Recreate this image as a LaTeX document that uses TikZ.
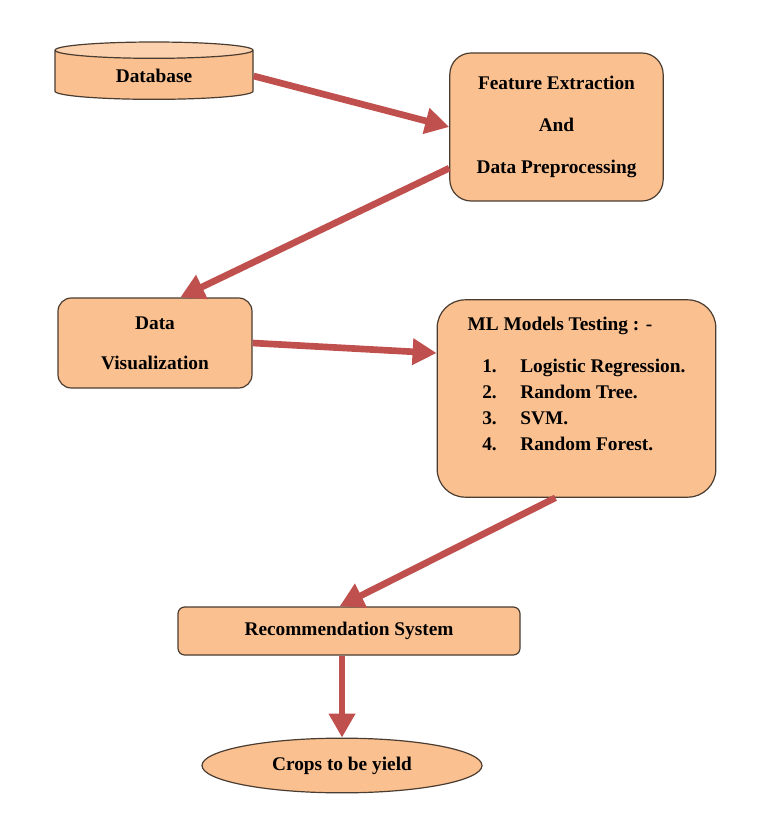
\documentclass[tikz,border=0pt]{standalone}
\usepackage{fontspec}
\setmainfont{Liberation Serif}
\usepackage{xcolor}
\usepackage{tikz}
\usetikzlibrary{shapes.geometric, arrows.meta, positioning, calc}

\definecolor{boxfill}{HTML}{FAC090}
\definecolor{boxtop}{HTML}{FCD2AE}
\definecolor{boxline}{HTML}{4A3C30}
\definecolor{arrred}{HTML}{C0504D}

\begin{document}
\begin{tikzpicture}[x=0.75pt, y=-0.75pt,
    box/.style={rectangle, draw=boxline, fill=boxfill, line width=0.9pt, align=center, inner sep=2pt, font=\fontsize{14.5}{31.5}\selectfont\bfseries},
    arr/.style={-{Triangle[length=18pt, width=19pt]}, line width=5pt, draw=arrred}
]
\useasboundingbox (0,0) rectangle (756,816);

% Database
\node[cylinder, shape border rotate=90, aspect=0.2, draw=boxline, line width=0.9pt,
      cylinder uses custom fill, cylinder body fill=boxfill, cylinder end fill=boxtop,
      minimum width=148.5pt, minimum height=43pt, inner sep=2pt,
      font=\fontsize{14.5}{17}\selectfont\bfseries] (db) at (154,76) {Database};

% Boxes
\node[box, rounded corners=16pt, minimum width=160pt, minimum height=111pt] (fe) at (556.5,127)
    {Feature Extraction\\And\\Data Preprocessing};
\node[box, rounded corners=10pt, minimum width=145.5pt, minimum height=67.5pt, font=\fontsize{14.5}{30}\selectfont\bfseries] (dv) at (155,343)
    {Data\\Visualization};
\node[box, rounded corners=21pt, minimum width=209pt, minimum height=148pt, align=left, font=\fontsize{14.5}{19.5}\selectfont\bfseries] (ml) at (576.5,398.5)
    {ML Models Testing : -\\[12pt]
     \hspace{11pt}\makebox[28.5pt][l]{1.}Logistic Regression.\\
     \hspace{11pt}\makebox[28.5pt][l]{2.}Random Tree.\\
     \hspace{11pt}\makebox[28.5pt][l]{3.}SVM.\\
     \hspace{11pt}\makebox[28.5pt][l]{4.}Random Forest.\rule[-22pt]{0pt}{22pt}};
\node[box, rounded corners=5pt, minimum width=256.5pt, minimum height=36pt, font=\fontsize{14.5}{17}\selectfont\bfseries] (rs) at (349,631)
    {Recommendation System};
\node[box, ellipse, minimum width=210pt, minimum height=41pt, font=\fontsize{14.5}{17}\selectfont\bfseries] (cy) at (342,765.5)
    {Crops to be yield};

% Arrows
\draw[arr] (db.east) -- (fe.west);
\draw[arr] (fe.201) -- (dv.61);
\draw[arr] (dv.east) -- (ml.162);
\draw[arr] (ml.258) -- (rs.111);
\draw[arr] (cy.north |- rs.south) -- (cy.north);

\end{tikzpicture}
\end{document}
